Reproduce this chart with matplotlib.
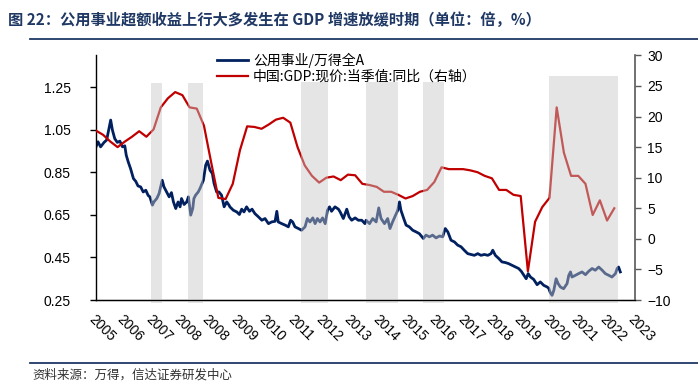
import numpy as np
import pandas as pd
import matplotlib
matplotlib.use('Agg')
import matplotlib.pyplot as plt
from matplotlib.lines import Line2D

plt.rcParams['font.family'] = ['Liberation Sans', 'Noto Sans CJK SC', 'DejaVu Sans']

# utilities / wind all A relative index (left axis)
blue_x = [2005.25, 2005.32, 2005.41, 2005.53, 2005.62, 2005.70, 2005.76, 2005.82, 2005.90, 2005.99,
          2006.08, 2006.17, 2006.25, 2006.30, 2006.37, 2006.45, 2006.55, 2006.63, 2006.71, 2006.80,
          2006.89, 2006.98, 2007.06, 2007.12, 2007.21, 2007.26, 2007.36, 2007.44, 2007.55, 2007.61,
          2007.70, 2007.79, 2007.87, 2007.94, 2008.02, 2008.10, 2008.17, 2008.22, 2008.31, 2008.40,
          2008.46, 2008.54, 2008.61, 2008.65, 2008.71, 2008.80, 2008.86, 2008.91, 2008.98, 2009.06,
          2009.12, 2009.21, 2009.29, 2009.35, 2009.44, 2009.52, 2009.61, 2009.70, 2009.79, 2009.87,
          2009.90, 2010.02, 2010.14, 2010.23, 2010.31, 2010.39, 2010.48, 2010.58, 2010.67, 2010.77,
          2010.89, 2011.01, 2011.12, 2011.24, 2011.35, 2011.47, 2011.53, 2011.58, 2011.70, 2011.82,
          2011.93, 2012.01, 2012.08, 2012.16, 2012.28, 2012.39, 2012.51, 2012.59, 2012.68, 2012.78,
          2012.86, 2012.94, 2013.03, 2013.12, 2013.21, 2013.29, 2013.36, 2013.43, 2013.55, 2013.67,
          2013.73, 2013.84, 2013.96, 2014.04, 2014.13, 2014.25, 2014.36, 2014.48, 2014.59,
          2014.63, 2014.75, 2014.86, 2014.98, 2015.07, 2015.15, 2015.27, 2015.38, 2015.46, 2015.56,
          2015.65, 2015.73, 2015.79, 2015.84, 2015.93, 2016.02, 2016.13, 2016.25, 2016.37, 2016.48,
          2016.62, 2016.71, 2016.83, 2016.94, 2017.06, 2017.18, 2017.29, 2017.38, 2017.47, 2017.58,
          2017.70, 2017.81, 2017.93, 2018.04, 2018.16, 2018.28, 2018.39, 2018.51, 2018.62, 2018.74,
          2018.86, 2018.97, 2019.03, 2019.12, 2019.24,
          2019.35, 2019.47, 2019.58, 2019.70, 2019.82, 2019.93, 2020.02, 2020.11, 2020.19, 2020.26,
          2020.34, 2020.45, 2020.57, 2020.68, 2020.80, 2020.92, 2020.97, 2021.03, 2021.09, 2021.15,
          2021.23, 2021.30, 2021.38, 2021.49, 2021.61, 2021.67, 2021.73, 2021.78, 2021.90, 2022.01,
          2022.13, 2022.25, 2022.36, 2022.48, 2022.59, 2022.71, 2022.83, 2022.94, 2023.06, 2023.17,
          2023.29, 2023.35, 2023.40, 2023.46]
blue_y = [0.970, 0.994, 0.970, 0.991, 1.002, 1.057, 1.096, 1.049, 1.009, 0.991,
          0.997, 0.970, 0.975, 0.931, 0.899, 0.868, 0.821, 0.808, 0.786, 0.782,
          0.758, 0.766, 0.742, 0.735, 0.696, 0.711, 0.727, 0.750, 0.813, 0.782,
          0.758, 0.735, 0.755, 0.711, 0.680, 0.711, 0.688, 0.727, 0.699, 0.711,
          0.735, 0.649, 0.680, 0.727, 0.743, 0.758, 0.774, 0.790, 0.813, 0.884,
          0.903, 0.860, 0.845, 0.798, 0.758, 0.758, 0.743, 0.688, 0.711, 0.696,
          0.688, 0.672, 0.664, 0.652, 0.677, 0.664, 0.688, 0.667, 0.677, 0.656,
          0.641, 0.625, 0.633, 0.609, 0.617, 0.620, 0.667, 0.617, 0.609, 0.602,
          0.594, 0.625, 0.617, 0.594, 0.586, 0.578, 0.594, 0.633, 0.617, 0.636,
          0.609, 0.633, 0.617, 0.636, 0.609, 0.672, 0.688, 0.667, 0.688, 0.677,
          0.664, 0.633, 0.677, 0.641, 0.625, 0.636, 0.625, 0.625, 0.609,
          0.625, 0.609, 0.633, 0.617, 0.683, 0.633, 0.609, 0.633, 0.586, 0.620,
          0.648, 0.672, 0.711, 0.672, 0.636, 0.602, 0.594, 0.578, 0.570, 0.562,
          0.539, 0.555, 0.547, 0.555, 0.542, 0.551, 0.547, 0.586, 0.570, 0.531,
          0.523, 0.508, 0.500, 0.484, 0.468, 0.464, 0.460, 0.468, 0.460, 0.464,
          0.460, 0.468, 0.484, 0.460, 0.445,
          0.429, 0.426, 0.421, 0.413, 0.405, 0.398, 0.385, 0.366, 0.350, 0.374,
          0.358, 0.347, 0.322, 0.335, 0.319, 0.311, 0.306, 0.284, 0.272, 0.295,
          0.350, 0.327, 0.311, 0.303, 0.327, 0.366, 0.382, 0.358, 0.366, 0.374,
          0.382, 0.369, 0.385, 0.398, 0.390, 0.405, 0.390, 0.374, 0.366, 0.358,
          0.374, 0.398, 0.405, 0.382]

# China nominal GDP yoy, quarterly 2005Q1-2023Q1 (right axis)
gdp_q = pd.period_range('2005Q1', '2023Q1', freq='Q')
gdp_yoy = [17.7, 17.0, 15.9, 15.0, 15.9, 16.7, 17.6, 16.7, 17.9, 21.5,
           23.0, 24.0, 23.5, 21.5, 21.3, 18.5, 12.5, 6.7, 6.5, 9.0,
           14.5, 18.4, 18.3, 18.0, 18.7, 19.5, 19.8, 19.0, 15.0, 12.0,
           10.3, 9.2, 10.0, 10.2, 9.6, 10.5, 10.4, 9.0, 8.8, 8.5,
           7.7, 7.7, 7.2, 6.6, 7.0, 7.7, 8.0, 9.3, 11.7, 11.4,
           11.4, 11.4, 11.2, 10.9, 10.3, 9.9, 8.0, 8.0, 7.2, 7.0,
           -5.3, 2.8, 5.2, 6.7, 21.5, 14.1, 10.3, 10.3, 9.0, 3.9,
           6.3, 3.0, 5.0]
gdp_x = [p.year + p.quarter / 4 for p in gdp_q]

# shaded periods (start, end, top on right axis)
shade_start = [2007.15, 2008.45, 2012.37, 2014.63, 2016.62, 2020.98]
shade_end = [2007.54, 2008.97, 2013.30, 2015.74, 2017.33, 2023.38]
shade_top = [25.5, 25.5, 25.7, 25.7, 25.7, 26.6]

# tick labels as printed (2008 shows twice)
x_labels = ['2005', '2006', '2007', '2008', '2008', '2009', '2010', '2011', '2012', '2013',
            '2014', '2015', '2016', '2017', '2018', '2019', '2020', '2021', '2022', '2023']

navy = '#002060'
red = '#c00000'
cjk = ['Noto Sans CJK SC', 'DejaVu Sans']

W, H = 698, 388
fig = plt.figure(figsize=(W / 100, H / 100), dpi=100)
ax = fig.add_axes([96 / W, 1 - 300 / H, (635 - 96) / W, (300 - 55.4) / H])
ax2 = ax.twinx()

l1, = ax.plot(blue_x, blue_y, color=navy, lw=2.0, label='公用事业/万得全A')
l2, = ax2.plot(gdp_x, gdp_yoy, color=red, lw=1.6, label='中国:GDP:现价:当季值:同比（右轴）')

for s, e, top in zip(shade_start, shade_end, shade_top):
    ax2.bar((s + e) / 2, top + 10.5, bottom=-10.5, width=e - s, color='#c6c6c6',
            alpha=0.45, lw=0, zorder=5, clip_on=False)

xmin, xmax = 2005.25, 2023.97
ax.set_xlim(xmin, xmax)
ax.set_ylim(0.25, 1.40)
ax2.set_ylim(-10, 30)
ax.set_yticks([0.25, 0.45, 0.65, 0.85, 1.05, 1.25])
ax.set_yticklabels(['0.25', '0.45', '0.65', '0.85', '1.05', '1.25'])
ax2.set_yticks(np.arange(-10, 31, 5))
ax.set_xticks(np.linspace(xmin, xmax, len(x_labels)))
ax.set_xticklabels(x_labels, rotation=-45, ha='left', va='top', rotation_mode='anchor')

for a in (ax, ax2):
    a.spines['top'].set_visible(False)
ax.spines['right'].set_visible(False)
ax2.spines['left'].set_visible(False)
ax2.spines['bottom'].set_color('black')
ax2.spines['bottom'].set_zorder(10)
ax2.spines['right'].set_color('#595959')
ax2.spines['right'].set_linewidth(1.2)
ax.spines['left'].set_linewidth(1.0)
ax.spines['bottom'].set_linewidth(1.0)

ax.tick_params(axis='y', direction='out', length=4, width=1, labelsize=10, pad=14)
ax.tick_params(axis='x', length=0, labelsize=10, pad=9)
ax2.tick_params(axis='y', direction='out', length=4, width=1, colors='#595959',
                labelcolor='black', labelsize=10, pad=5)

leg = ax2.legend(handles=[l1, l2], loc='upper left', bbox_to_anchor=(217 / W, 1 - 53 / H),
                 bbox_transform=fig.transFigure, frameon=False, prop={'family': cjk, 'size': 10},
                 handlelength=2.2, handletextpad=0.4, labelspacing=0.1, borderpad=0,
                 borderaxespad=0)
leg.set_zorder(20)

fig.text(8 / W, 1 - 20 / H, '图 22：公用事业超额收益上行大多发生在 GDP 增速放缓时期（单位：倍，%）',
         family=cjk, fontsize=11, fontweight='bold', color='#1f3864', va='center')
fig.add_artist(Line2D([30 / W, 1], [1 - 38.5 / H] * 2, color='#1f3864', lw=1.3))
fig.add_artist(Line2D([30 / W, 1], [1 - 363 / H] * 2, color='#1f3864', lw=1.3))
fig.text(32 / W, 1 - 375 / H, '资料来源：万得，信达证券研发中心', family=cjk, fontsize=9,
         color='#333333', va='center', style='italic')

fig.savefig('out.png', dpi=100)
